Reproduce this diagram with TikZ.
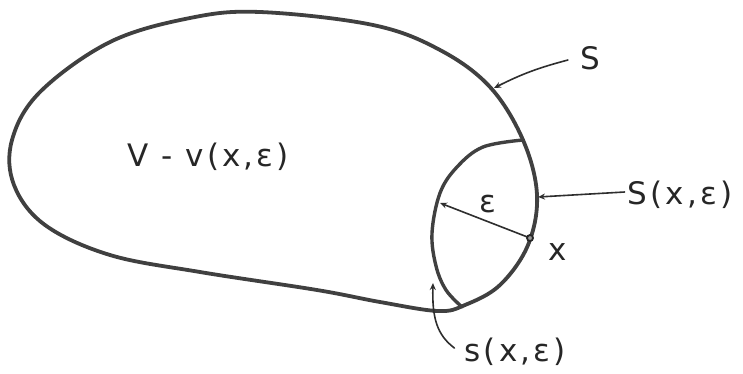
\documentclass[tikz,border=0pt]{standalone}
\usepackage{fontspec}
\setmainfont{DejaVu Sans}
\usetikzlibrary{arrows.meta}
\begin{document}
\begin{tikzpicture}[x=1pt,y=-1pt,
  surf/.style={line width=3.8pt, draw=black!75, line join=round, line cap=round},
  lead/.style={line width=1.6pt, draw=black!82, line cap=round, -{Stealth[length=7pt,width=6pt,open]}},
  plain/.style={line width=1.8pt, draw=black!85, line cap=round},
  lbl/.style={text=black!85, inner sep=0pt, font=\fontsize{31}{31}\selectfont\addfontfeature{LetterSpace=10}}]
\useasboundingbox (0,0) rectangle (743,373);
% outer surface S
\draw[surf] plot[smooth cycle, tension=0.6] coordinates {
  (260,12) (373,25) (440,50) (490,87) (523,140) (537,195) (528,245)
  (500,285) (465,305) (438,311) (380,302) (317,290)
  (200,272) (110,255) (45,225) (14,185) (12,140)
  (40,92) (110,42) (190,18)};
% inner arc s(x,eps)
\draw[surf, line width=3.4pt] plot[smooth, tension=0.6] coordinates {
  (523,140) (483,147) (457,167) (440,193) (432,233) (436,266) (446,290) (462,307)};
% named points
\coordinate (pS) at (494,88);
\coordinate (pSx) at (538,197);
\coordinate (psx) at (433,283);
\coordinate (x) at (530,238);
\coordinate (erad) at (440,203);
% labels
\node[lbl] (labV) at (208,157) {V - v(x,ε)};
\node[lbl] (labS) at (590,58) {S};
\node[lbl] (labSx) at (680,195) {S(x,ε)};
\node[lbl] (labx) at (558,252) {x};
\node[lbl] (labe) at (488,204) {ε};
\node[lbl] (labsx) at (515,352) {s(x,ε)};
% radius and point x
\draw[lead] (x) -- (erad);
\draw[plain, fill=black!40] (x) circle (3pt);
% leaders
\draw[lead] ([xshift=-12pt,yshift=-2pt]labS.west) to[bend right=6] (pS);
\draw[lead] ([xshift=-3pt,yshift=3pt]labSx.west) -- (pSx);
\draw[lead] ([xshift=-10pt,yshift=4pt]labsx.west) .. controls (437,335) and (432,318) .. (psx);
\end{tikzpicture}
\end{document}
